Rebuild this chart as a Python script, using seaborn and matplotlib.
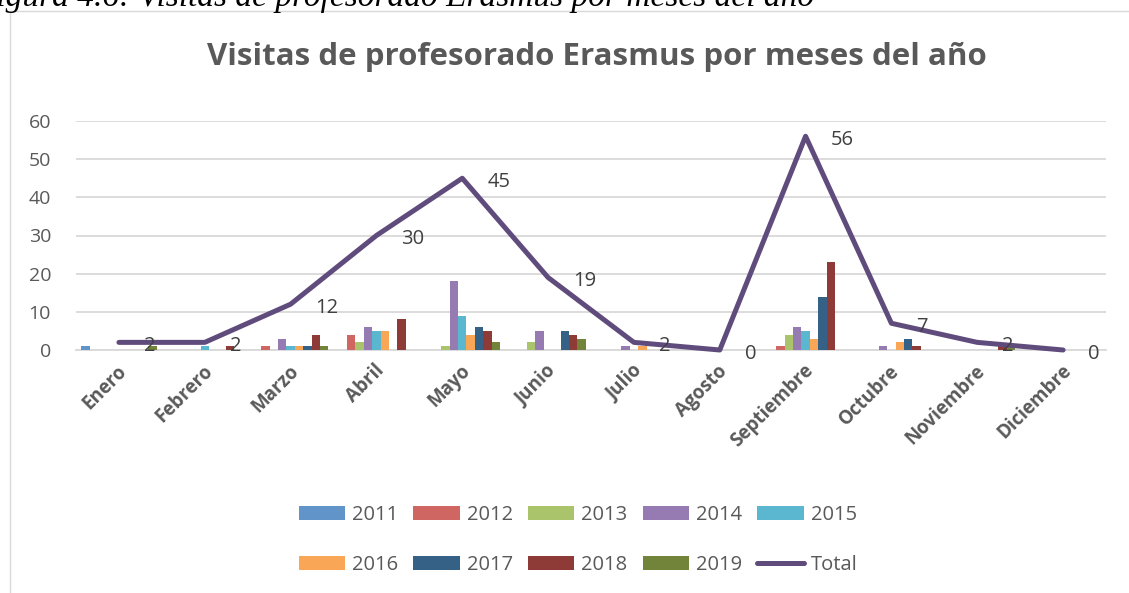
import numpy as np
import pandas as pd
import matplotlib
matplotlib.use("Agg")
import matplotlib.pyplot as plt
import matplotlib.transforms as mtransforms
from matplotlib.patches import Patch, Rectangle
from matplotlib.lines import Line2D
import seaborn as sns

months = ["Enero", "Febrero", "Marzo", "Abril", "Mayo", "Junio", "Julio",
          "Agosto", "Septiembre", "Octubre", "Noviembre", "Diciembre"]
years = ["2011", "2012", "2013", "2014", "2015", "2016", "2017", "2018", "2019"]

v2011 = [1, 0, 0, 0, 0, 0, 0, 0, 0, 0, 0, 0]
v2012 = [0, 0, 1, 4, 0, 0, 0, 0, 1, 0, 0, 0]
v2013 = [0, 0, 0, 2, 1, 2, 0, 0, 4, 0, 0, 0]
v2014 = [0, 0, 3, 6, 18, 5, 1, 0, 6, 1, 0, 0]
v2015 = [0, 1, 1, 5, 9, 0, 0, 0, 5, 0, 0, 0]
v2016 = [0, 0, 1, 5, 4, 0, 1, 0, 3, 2, 0, 0]
v2017 = [0, 0, 1, 0, 6, 5, 0, 0, 14, 3, 0, 0]
v2018 = [0, 1, 4, 8, 5, 4, 0, 0, 23, 1, 1, 0]
v2019 = [1, 0, 1, 0, 2, 3, 0, 0, 0, 0, 1, 0]
total = [2, 2, 12, 30, 45, 19, 2, 0, 56, 7, 2, 0]

series = [v2011, v2012, v2013, v2014, v2015, v2016, v2017, v2018, v2019]
colors = ["#6194C9", "#CF6661", "#AAC46C", "#957BB2", "#5BB7D0",
          "#F9A657", "#366186", "#8E3A36", "#718439"]
line_color = "#604C7C"
text_color = "#595959"

title = "Visitas de profesorado Erasmus por meses del año"
caption = "Figura 4.6: Visitas de profesorado Erasmus por meses del año"

rows = []
for y, vals in zip(years, series):
    for m, v in zip(months, vals):
        rows.append({"mes": m, "año": y, "valor": v})
df = pd.DataFrame(rows)

sns.set_style("white")
plt.rcParams["font.family"] = ["Open Sans", "DejaVu Sans"]

W, H = 1129, 593
fig = plt.figure(figsize=(W / 100, H / 100), dpi=100)
ax = fig.add_axes([76 / W, 1 - 350 / H, (1106 - 76) / W, (350 - 121) / H])

sns.barplot(data=df, x="mes", y="valor", hue="año", order=months,
            hue_order=years, palette=colors, width=0.88, saturation=1,
            linewidth=0, legend=False, ax=ax, zorder=3)

xs = np.arange(len(months))
ax.plot(xs, total, color=line_color, lw=3.6, solid_joinstyle="round",
        solid_capstyle="round", zorder=5, clip_on=False)
for x, t in zip(xs, total):
    ax.annotate(str(t), (x, t), xytext=(25, -4), textcoords="offset pixels",
                ha="left", va="center", fontsize=14.5, color="#404040", zorder=6)

ax.set_ylim(0, 60)
ax.set_xlim(-0.5, len(months) - 0.5)
ax.set_yticks(range(0, 61, 10))
ax.set_xlabel("")
ax.set_ylabel("")
ax.yaxis.grid(True, color="#D9D9D9", lw=1.3)
ax.set_axisbelow(True)
for s in ["top", "right", "left"]:
    ax.spines[s].set_visible(False)
ax.spines["bottom"].set_color("#D9D9D9")
ax.spines["bottom"].set_linewidth(1.3)
ax.tick_params(axis="y", length=0, pad=18, labelsize=14, labelcolor=text_color)
ax.tick_params(axis="x", length=0, pad=13)
ax.set_xticks(xs)
ax.set_xticklabels(months, rotation=45, ha="right", va="center",
                   rotation_mode="anchor", fontweight="bold", fontsize=13.5,
                   color=text_color)
shift = mtransforms.ScaledTranslation(5 / 100, 0, fig.dpi_scale_trans)
for lab in ax.get_xticklabels():
    lab.set_transform(lab.get_transform() + shift)

fig.text(597 / W, 1 - 57 / H, title, ha="center", va="center", fontsize=22.5,
         fontweight="bold", color=text_color)

fig.text(-24 / W, 1 - 6 / H, caption, ha="left", va="baseline", fontsize=24,
         style="italic", family=["Liberation Serif", "DejaVu Serif"], color="black")

fig.add_artist(Rectangle((10 / W, -0.1), 1.2, 1 - 11 / H + 0.1,
                         transform=fig.transFigure, fill=False,
                         edgecolor="#D9D9D9", lw=1))

handles = [Patch(facecolor=c, edgecolor="none") for c in colors]
handles.append(Line2D([], [], color=line_color, lw=3.6, solid_capstyle="round"))
labels = years + ["Total"]
order = [0, 5, 1, 6, 2, 7, 3, 8, 4, 9]
leg = fig.legend([handles[i] for i in order], [labels[i] for i in order],
                 ncol=5, loc="center", bbox_to_anchor=(578 / W, 1 - 540 / H),
                 frameon=False, fontsize=14.5, handlelength=2.3,
                 handleheight=0.65, handletextpad=0.35, columnspacing=0.75,
                 labelspacing=1.5)
for t in leg.get_texts():
    t.set_color(text_color)

fig.savefig("out.png", dpi=100, facecolor="white")
